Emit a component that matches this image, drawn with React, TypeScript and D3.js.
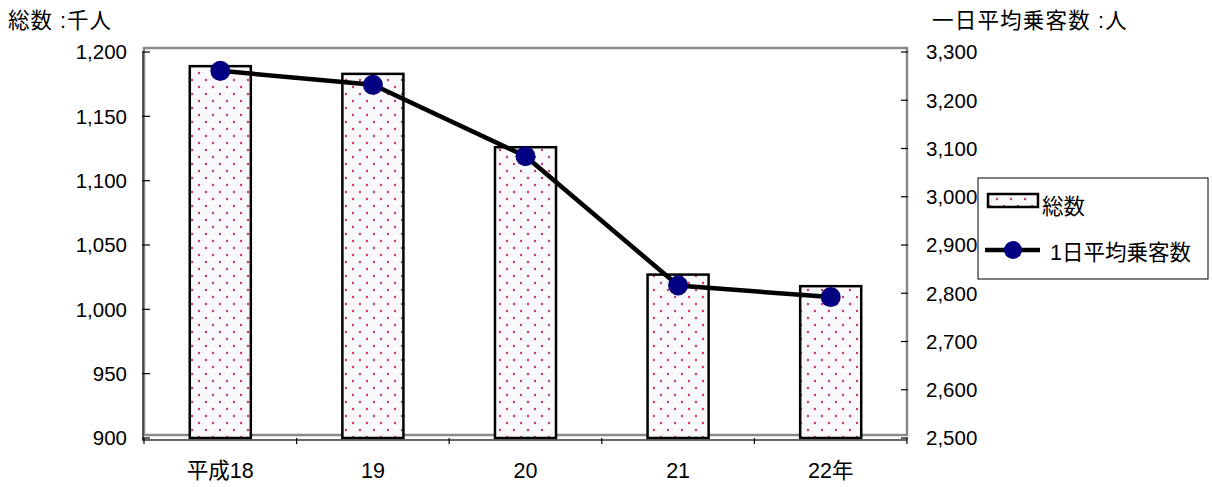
import React from "react";
import * as d3 from "d3";

const categories = ["平成18", "19", "20", "21", "22年"];
const totalValues = [1189, 1183, 1126, 1027, 1018];
const dailyValues = [3261, 3232, 3084, 2816, 2792];
const leftTicks = [900, 950, 1000, 1050, 1100, 1150, 1200];
const rightTicks = [2500, 2600, 2700, 2800, 2900, 3000, 3100, 3200, 3300];
const leftTitle = "総数 :千人";
const rightTitle = "一日平均乗客数 :人";
const legendLabels = ["総数", "1日平均乗客数"];

const W = 1212;
const H = 487;
const plot = { left: 144, right: 907, top: 52, bottom: 438 };
const FONT = "'Liberation Sans', Arial, 'Noto Sans CJK JP', sans-serif";
const fmt = d3.format(",");
const FS = 20.5;

export default function App() {
  const x = d3
    .scaleBand<string>()
    .domain(categories)
    .range([plot.left, plot.right])
    .paddingInner(0.6)
    .paddingOuter(0.3);
  const xOuter = d3.scaleBand<string>().domain(categories).range([plot.left, plot.right]);
  const yL = d3.scaleLinear().domain([900, 1200]).range([plot.bottom, plot.top]);
  const yR = d3.scaleLinear().domain([2500, 3300]).range([plot.bottom, plot.top]);

  const line = d3
    .line<number>()
    .x((_, i) => (xOuter(categories[i]) as number) + xOuter.bandwidth() / 2)
    .y((d) => yR(d));

  const boundaries = categories.map((c) => xOuter(c) as number).concat([plot.right]);

  return (
    <svg width={W} height={H} style={{ position: "absolute", left: 0, top: 0, background: "#fff" }}>
      <defs>
        <pattern id="dots" width={14} height={14} patternUnits="userSpaceOnUse">
          <rect width={14} height={14} fill="#f9f9fc" />
          <circle cx={3} cy={3} r={1.2} fill="#c83a72" />
          <circle cx={10} cy={10} r={1.2} fill="#c83a72" />
        </pattern>
      </defs>
      <rect x={0} y={0} width={W} height={H} fill="#fff" />
      {/* plot border */}
      <rect
        x={plot.left}
        y={plot.top - 4}
        width={plot.right - plot.left}
        height={plot.bottom - plot.top + 1}
        fill="none"
        stroke="#8a8a8a"
        strokeWidth={2.5}
      />
      {/* bars */}
      {totalValues.map((v, i) => (
        <rect
          key={i}
          x={x(categories[i])}
          y={yL(v)}
          width={x.bandwidth()}
          height={plot.bottom - yL(v)}
          fill="url(#dots)"
          stroke="#000"
          strokeWidth={2.5}
        />
      ))}
      {/* left axis */}
      <line x1={plot.left - 1} x2={plot.left - 1} y1={plot.top} y2={plot.bottom + 2} stroke="#333" strokeWidth={1.5} />
      {leftTicks.map((t) => (
        <g key={t}>
          <line x1={plot.left - 2} x2={plot.left + 6} y1={yL(t)} y2={yL(t)} stroke="#000" strokeWidth={1.2} />
          <text
            x={plot.left - 17}
            y={yL(t)}
            dy="0.36em"
            textAnchor="end"
            fontFamily={FONT}
            fontSize={FS}
            fill="#000"
          >
            {fmt(t)}
          </text>
        </g>
      ))}
      {/* right axis */}
      {rightTicks.map((t) => (
        <g key={t}>
          <line x1={plot.right - 6} x2={plot.right + 1} y1={yR(t)} y2={yR(t)} stroke="#000" strokeWidth={1.2} />
          <text
            x={plot.right + 19}
            y={yR(t)}
            dy="0.36em"
            textAnchor="start"
            fontFamily={FONT}
            fontSize={FS}
            fill="#000"
          >
            {fmt(t)}
          </text>
        </g>
      ))}
      {/* bottom axis */}
      <line x1={plot.left - 2} x2={plot.right} y1={plot.bottom + 2} y2={plot.bottom + 2} stroke="#333" strokeWidth={1.5} />
      {boundaries.map((b, i) => (
        <line key={i} x1={b} x2={b} y1={plot.bottom} y2={plot.bottom + 6} stroke="#000" strokeWidth={1.2} />
      ))}
      {categories.map((c) => (
        <text
          key={c}
          x={(xOuter(c) as number) + xOuter.bandwidth() / 2}
          y={470}
          dy="0.36em"
          textAnchor="middle"
          fontFamily={FONT}
          fontSize={21.5}
          fill="#000"
        >
          {c}
        </text>
      ))}
      {/* line series */}
      <path d={line(dailyValues) || ""} fill="none" stroke="#000" strokeWidth={4.5} />
      {dailyValues.map((v, i) => (
        <circle
          key={i}
          cx={(xOuter(categories[i]) as number) + xOuter.bandwidth() / 2}
          cy={yR(v)}
          r={10}
          fill="#000080"
        />
      ))}
      {/* titles */}
      <text x={8} y={20} dy="0.36em" fontFamily={FONT} fontSize={21.5} letterSpacing={1} fill="#000">
        {leftTitle}
      </text>
      <text x={932} y={20} dy="0.36em" fontFamily={FONT} fontSize={21.5} letterSpacing={1.2} fill="#000">
        {rightTitle}
      </text>
      {/* legend */}
      <rect x={978} y={178} width={230} height={101} fill="#fff" stroke="#000" strokeWidth={1} />
      <rect x={988} y={194} width={50} height={13} fill="url(#dots)" stroke="#000" strokeWidth={2.5} />
      <text x={1042} y={206} dy="0.36em" fontFamily={FONT} fontSize={21.5} fill="#000">
        {legendLabels[0]}
      </text>
      <line x1={985} x2={1040} y1={250} y2={250} stroke="#000" strokeWidth={4.5} />
      <circle cx={1013} cy={250} r={9} fill="#000080" />
      <text x={1050} y={252} dy="0.36em" fontFamily={FONT} fontSize={21.5} fill="#000">
        {legendLabels[1]}
      </text>
    </svg>
  );
}
